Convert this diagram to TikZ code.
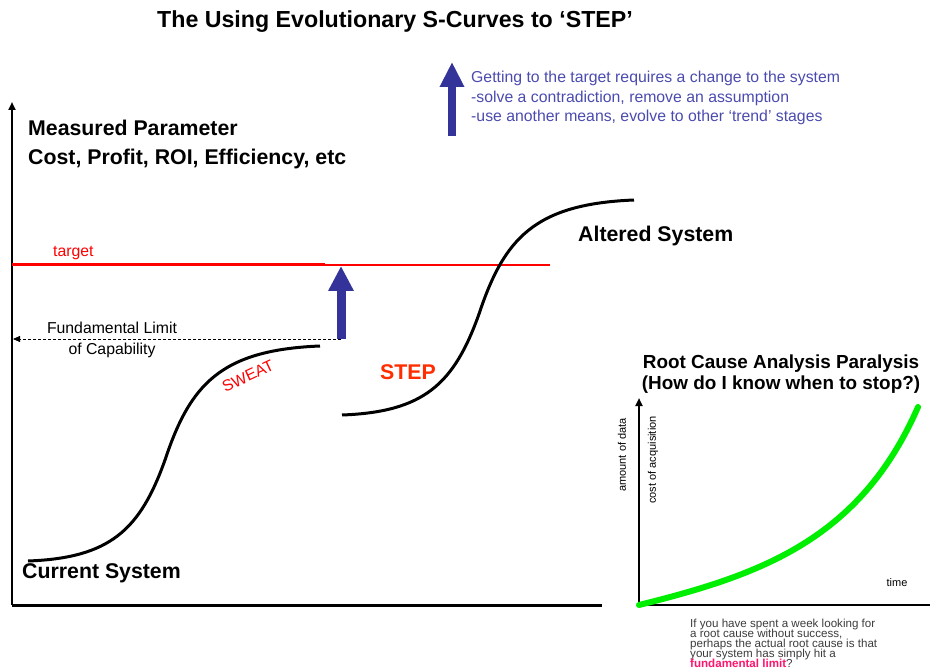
\documentclass[tikz,border=0pt]{standalone}
\usepackage{fontspec}
\setmainfont{Liberation Sans}
\usetikzlibrary{arrows.meta}

\definecolor{stepblue}{RGB}{51,51,153}
\definecolor{noteblue}{RGB}{75,75,175}
\definecolor{stepred}{RGB}{255,45,0}
\definecolor{limitpink}{RGB}{255,20,110}
\definecolor{rcagreen}{RGB}{0,238,0}
\definecolor{captiongray}{RGB}{60,60,60}

% lines packed closer than their glyphs
\newcommand{\tightlines}{\lineskiplimit -10pt\relax}

\tikzset{
  axis/.style={line width=2pt, -{Triangle[length=8pt,width=7pt]}},
  scurve/.style={line width=3pt},
  bigarrow/.style={line width=9pt, stepblue, -{Triangle[length=25pt,width=24pt]}},
  heading/.style={inner sep=0pt, font=\bfseries\fontsize{21.3}{25}\selectfont},
  remark/.style={inner sep=0pt, font=\fontsize{15.8}{19.5}\selectfont},
}

\begin{document}
\begin{tikzpicture}[x=1pt, y=-1pt]
\useasboundingbox (0,0) rectangle (930,671);

\node[inner sep=0pt, font=\bfseries\fontsize{23.2}{27}\selectfont] (title) at (395,22)
  {The Using Evolutionary S-Curves to ‘STEP’};

% main axes
\coordinate (origin) at (12,605);
\coordinate (ytop) at (12,102);
\coordinate (xend) at (602,605);
\draw[axis] (origin) -- (ytop);
\draw[line width=3pt] (origin) -- (xend);
\node[heading, anchor=west] (measured) at (28,128) {Measured Parameter};
\node[heading, anchor=west] (costs) at (28,159) {Cost, Profit, ROI, Efficiency, etc};

% target level
\coordinate (tgt-l) at (12,265);
\coordinate (tgt-m) at (325,265);
\coordinate (tgt-r) at (550,265);
\draw[red, line width=3pt] (tgt-l) -- (tgt-m);
\draw[red, line width=2.5pt] (tgt-m) -- (tgt-r);
\node[remark, red, anchor=west] (target) at (53,253) {target};

% limit of the current curve
\coordinate (push) at (341,339);
\coordinate (reach) at (341,266);
\coordinate (limit) at (13,339);
\draw[dashed, dash pattern=on 3pt off 2pt, line width=0.8pt, -{Triangle[length=7pt,width=6pt]}] (push) -- (limit);
\draw[bigarrow] (push) -- (reach);
\node[remark, align=center] (limittxt) at (112,340) {Fundamental Limit\\[1pt]of Capability};

% the two s-curves
\foreach \dx/\dy in {0/0, 314/-146}
  \draw[scurve, shift={(\dx,\dy)}] (28,561) .. controls (110,558) and (140,530) .. (165,460)
    .. controls (190,385) and (220,350) .. (320,346);
\node[remark, red, rotate=25] (sweat) at (248,376) {SWEAT};
\node[heading, anchor=west] (current) at (22,573) {Current System};
\node[heading, stepred] (step) at (408,372) {STEP};
\node[heading, anchor=west] (altered) at (578,236) {Altered System};

% what it takes to reach the target
\coordinate (note-base) at (452,136);
\coordinate (note-tip) at (452,62);
\draw[bigarrow, line width=8pt, -{Triangle[length=25pt,width=23pt]}] (note-base) -- (note-tip);
\node[remark, noteblue, align=left, anchor=west] (note) at (471,98)
  {Getting to the target requires a change to the system\\
   -solve a contradiction, remove an assumption\\
   -use another means, evolve to other ‘trend’ stages};

% root cause analysis inset
\node[inner sep=0pt, align=center, font=\bfseries\fontsize{18.9}{21.5}\selectfont] (rca) at (781,374)
  {Root Cause Analysis Paralysis\\(How do I know when to stop?)};
\coordinate (rca-o) at (639,605);
\coordinate (rca-y) at (639,398);
\coordinate (rca-x) at (930,605);
\coordinate (rca-top) at (918,407);
\draw[axis, line width=2.5pt] (rca-o) -- (rca-y);
\draw[line width=2.5pt] (rca-o) -- (rca-x);
\draw[rcagreen, line width=6pt, line cap=round] (rca-o) .. controls (760,575) and (860,540) .. (rca-top);
\node[inner sep=0pt, rotate=90, font=\fontsize{11}{13}\selectfont] (amount) at (622,455) {amount of data};
\node[inner sep=0pt, rotate=90, font=\fontsize{11}{13}\selectfont] (acq) at (653,460) {cost of acquisition};
\node[inner sep=0pt, font=\fontsize{11}{13}\selectfont] (time) at (897,583) {time};
\node[inner sep=0pt, captiongray, align=left, anchor=north west,
      font=\fontsize{11.6}{10}\selectfont\tightlines] (caption) at (690,619)
  {If you have spent a week looking for\\a root cause without success,\\perhaps the actual root cause is that\\
   your system has simply hit a\\\textcolor{limitpink}{\bfseries fundamental limit}?};
\end{tikzpicture}
\end{document}
